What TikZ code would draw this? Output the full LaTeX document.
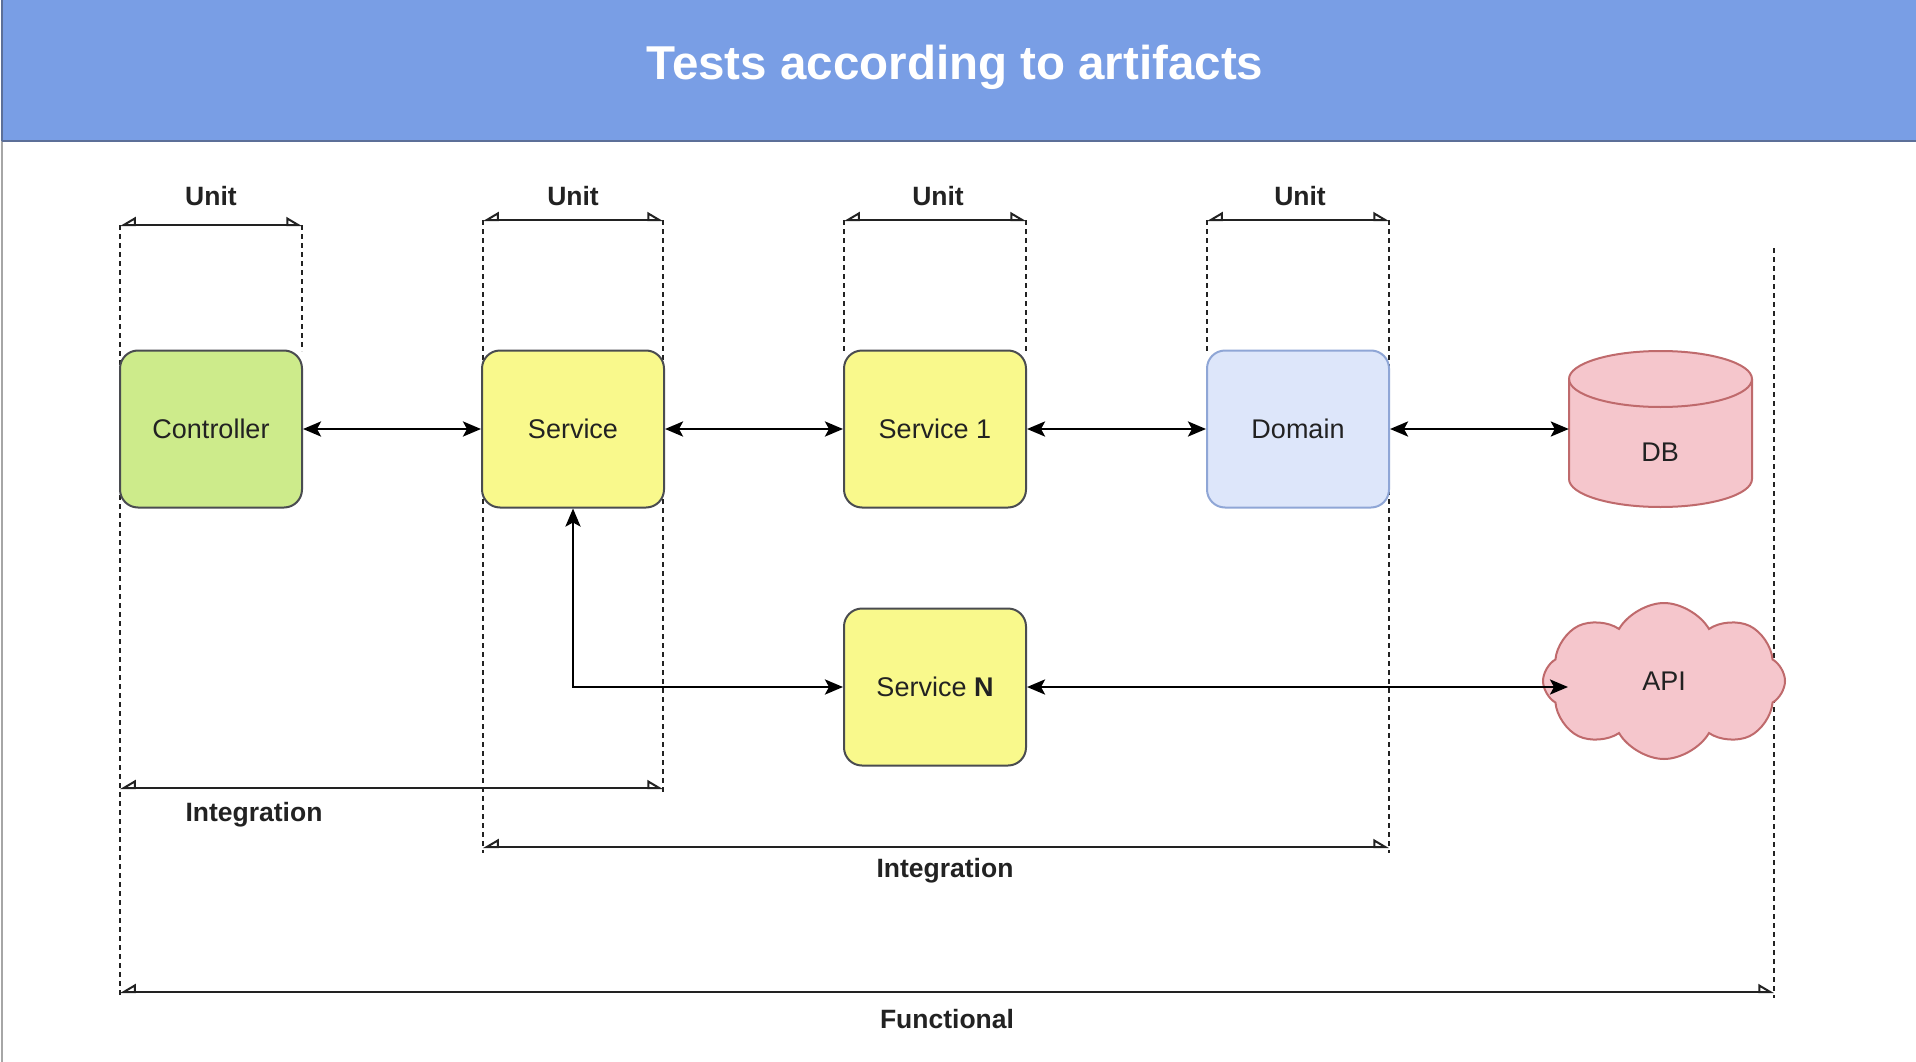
\documentclass[tikz,border=0pt]{standalone}
\usepackage{fontspec}
\setmainfont{Liberation Sans}
\usetikzlibrary{arrows.meta,shapes.symbols,calc}
\definecolor{banner}{HTML}{799EE5}
\definecolor{bannerline}{HTML}{5C6F98}
\definecolor{greenfill}{HTML}{CDEB8B}
\definecolor{yellowfill}{HTML}{F9F98C}
\definecolor{boxline}{HTML}{4A4C50}
\definecolor{bluefill}{HTML}{DDE6FA}
\definecolor{blueline}{HTML}{8FA6D6}
\definecolor{pinkfill}{HTML}{F5C6CC}
\definecolor{pinkline}{HTML}{BF6A6C}
\definecolor{txt}{HTML}{222222}
\tikzset{
  box/.style={draw=boxline, line width=2pt, rounded corners=18pt, minimum width=182pt, minimum height=157pt, inner sep=0pt, text=txt, font=\fontsize{27}{32}\selectfont},
  biarrow/.style={line width=2.8pt, draw=black, {Stealth[length=18pt,width=15pt,inset=4pt]}-{Stealth[length=18pt,width=15pt,inset=4pt]}},
  dimline/.style={line width=2.8pt, draw=txt, {Triangle[open,right,length=14pt,width=16pt,line width=2pt]}-{Triangle[open,left,length=14pt,width=16pt,line width=2pt]}},
  extline/.style={line width=2.6pt, draw=txt, dash pattern=on 5pt off 4pt},
  dimlabel/.style={text=txt, font=\fontsize{26.5}{31}\selectfont\bfseries, inner sep=0pt}
}
\begin{document}
\begin{tikzpicture}[x=1pt,y=-1pt]
\useasboundingbox (0,0) rectangle (1916,1062);
\fill[white] (0,0) rectangle (1916,1062);
% page edge and banner
\draw[line width=1.5pt, draw=gray!70] (2,0) -- (2,1062);
\fill[banner] (2,0) rectangle (1916,141);
\draw[line width=2pt, draw=bannerline] (2,141) -- (1916,141);
\draw[line width=2pt, draw=bannerline] (2,0) -- (2,141);
\node[text=white, font=\fontsize{47.5}{56}\selectfont\bfseries, inner sep=0pt] (title) at (955,67) {Tests according to artifacts};

% extension lines (dashed)
\coordinate (e1t) at (120,225);  \coordinate (e1b) at (120,998);
\coordinate (e2t) at (302,225);  \coordinate (e2b) at (302,351);
\coordinate (e3t) at (483,220);  \coordinate (e3b) at (483,853);
\coordinate (e4t) at (663,220);  \coordinate (e4b) at (663,794);
\coordinate (e5t) at (844,220);  \coordinate (e5b) at (844,351);
\coordinate (e6t) at (1026,220); \coordinate (e6b) at (1026,351);
\coordinate (e7t) at (1207,220); \coordinate (e7b) at (1207,351);
\coordinate (e8t) at (1389,220); \coordinate (e8b) at (1389,853);
\coordinate (e9t) at (1774,248); \coordinate (e9b) at (1774,998);
\foreach \i in {1,...,9} {\draw[extline] (e\i t) -- (e\i b);}

% nodes
\node[box, fill=greenfill] (ctrl) at (211,429) {Controller};
\node[box, fill=yellowfill] (svc) at (573,429) {Service};
\node[box, fill=yellowfill] (svc1) at (935,429) {Service 1};
\node[box, fill=bluefill, draw=blueline] (dom) at (1298,429) {Domain};
\node[box, fill=yellowfill] (svcN) at (935,687) {Service \textbf{N}};

% DB cylinder
\fill[pinkfill] (1569,379) -- (1569,479) arc[start angle=180, end angle=0, x radius=91.5, y radius=28] -- (1752,379) arc[start angle=0, end angle=-180, x radius=91.5, y radius=28] -- cycle;
\draw[pinkline, line width=2pt] (1569,379) -- (1569,479) arc[start angle=180, end angle=0, x radius=91.5, y radius=28] -- (1752,379) arc[start angle=0, end angle=-180, x radius=91.5, y radius=28];
\draw[pinkline, line width=2pt] (1569,379) arc[start angle=180, end angle=0, x radius=91.5, y radius=28];
\node[minimum width=183pt, minimum height=156pt, inner sep=0pt] (db) at (1660.5,429) {};
\node[text=txt, font=\fontsize{27}{32}\selectfont, inner sep=0pt] (dblabel) at (1660,452) {DB};

% API cloud
\node[cloud, cloud puffs=8, cloud puff arc=120, aspect=1.55, draw=pinkline, fill=pinkfill, line width=2pt, minimum width=242pt, minimum height=156pt, inner sep=0pt, text=txt, font=\fontsize{27}{32}\selectfont] (api) at (1664,681) {API};
\coordinate (apiin) at (1568,687);

% connectors
\draw[biarrow] (ctrl.east) -- (svc.west);
\draw[biarrow] (svc.east) -- (svc1.west);
\draw[biarrow] (svc1.east) -- (dom.west);
\draw[biarrow] (dom.east) -- (db.west);
\draw[biarrow] (svc.south) |- (svcN.west);
\draw[biarrow] (svcN.east) -- (apiin);

% dimension lines
\coordinate (u1a) at (120,225);  \coordinate (u1b) at (302,225);
\coordinate (u2a) at (483,220);  \coordinate (u2b) at (663,220);
\coordinate (u3a) at (844,220);  \coordinate (u3b) at (1026,220);
\coordinate (u4a) at (1207,220); \coordinate (u4b) at (1389,220);
\draw[dimline] (u1a) -- (u1b);
\draw[dimline] (u2a) -- (u2b);
\draw[dimline] (u3a) -- (u3b);
\draw[dimline] (u4a) -- (u4b);
\node[dimlabel] (unit1) at (211,196) {Unit};
\node[dimlabel] (unit2) at (573,196) {Unit};
\node[dimlabel] (unit3) at (938,196) {Unit};
\node[dimlabel] (unit4) at (1300,196) {Unit};

\coordinate (i1a) at (120,788);  \coordinate (i1b) at (663,788);
\coordinate (i2a) at (483,847);  \coordinate (i2b) at (1389,847);
\coordinate (fa) at (120,992);   \coordinate (fb) at (1774,992);
\draw[dimline] (i1a) -- (i1b);
\draw[dimline] (i2a) -- (i2b);
\draw[dimline] (fa) -- (fb);
\node[dimlabel] (int1) at (254,815) {Integration};
\node[dimlabel] (int2) at (945,871) {Integration};
\node[dimlabel] (func) at (947,1019) {Functional};
\end{tikzpicture}
\end{document}
